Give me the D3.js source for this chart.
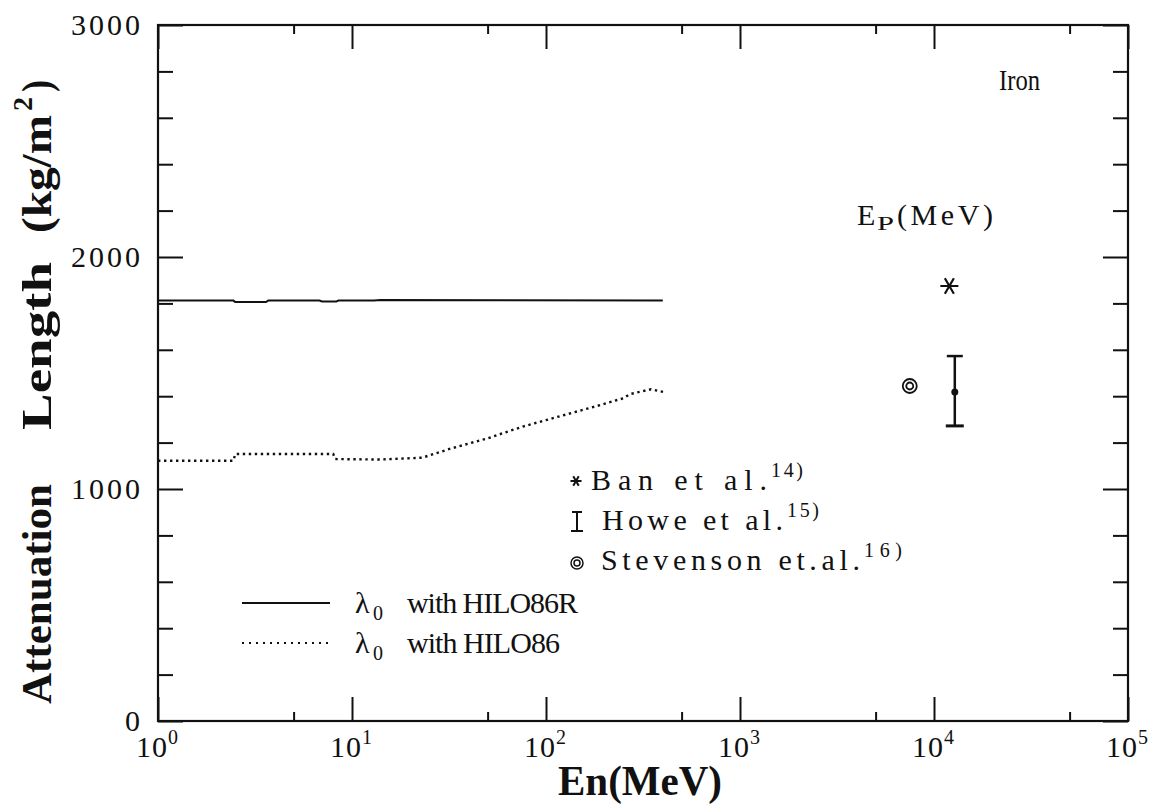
<!DOCTYPE html>
<html>
<head>
<meta charset="utf-8">
<script src="https://cdn.jsdelivr.net/npm/d3@7"></script>
<style>
  body { margin: 0; background: #fff; }
  text { font-family: "Liberation Serif", "DejaVu Serif", serif; fill: #111; }
</style>
</head>
<body>
<div id="chart"></div>
<script>
// curves (En in MeV, attenuation length in kg/m2)
const hilo86rE   = [1, 2.45, 2.5, 3.6, 3.7, 6.8, 7.0, 8.3, 8.5, 13, 14, 400];
const hilo86rVal = [1812, 1812, 1806, 1806, 1812, 1812, 1808, 1808, 1812, 1812, 1815, 1813];

const hilo86E   = [1, 2.45, 2.5, 8.0, 8.2, 14, 23, 32.5, 49.8, 75.9, 116, 178, 250, 271, 348, 405];
const hilo86Val = [1122, 1122, 1151, 1151, 1129, 1127, 1135, 1175, 1218, 1269, 1312, 1355, 1391, 1409, 1430, 1418];

// experimental points
const banE = [12000], banVal = [1875];
const howeE = [12800], howeVal = [1418], howeLo = [1272], howeHi = [1573];
const stevE = [7500], stevVal = [1444];

// axis ticks
const yMajor = [0, 1000, 2000, 3000];
const yMinor = [200, 400, 600, 800, 1200, 1400, 1600, 1800, 2200, 2400, 2600, 2800];
const xMajor = [1, 10, 100, 1000, 10000, 100000];
const xMinor = [5, 50, 500, 5000, 50000];
const xExp = ["0", "1", "2", "3", "4", "5"];

const W = 1158, H = 809;
const svg = d3.select("#chart").append("svg").attr("width", W).attr("height", H);

const x = d3.scaleLog().domain([1, 1e5]).range([158, 1128]);
const y = d3.scaleLinear().domain([0, 3000]).range([721, 25]);

// ticks, all pointing inward
svg.append("g").attr("transform", `translate(158,0)`)
    .call(d3.axisRight(y).tickValues(yMajor).tickSize(25).tickFormat(""));
svg.append("g").attr("transform", `translate(158,0)`)
    .call(d3.axisRight(y).tickValues(yMinor).tickSize(15).tickFormat(""));
svg.append("g").attr("transform", `translate(1128,0)`)
    .call(d3.axisLeft(y).tickValues(yMajor).tickSize(25).tickFormat(""));
svg.append("g").attr("transform", `translate(1128,0)`)
    .call(d3.axisLeft(y).tickValues(yMinor).tickSize(15).tickFormat(""));
svg.append("g").attr("transform", `translate(0,721)`)
    .call(d3.axisTop(x).tickValues(xMajor).tickSize(24).tickFormat(""));
svg.append("g").attr("transform", `translate(0,721)`)
    .call(d3.axisTop(x).tickValues(xMinor).tickSize(9).tickFormat(""));
svg.append("g").attr("transform", `translate(0,25)`)
    .call(d3.axisBottom(x).tickValues(xMajor).tickSize(24).tickFormat(""));
svg.append("g").attr("transform", `translate(0,25)`)
    .call(d3.axisBottom(x).tickValues(xMinor).tickSize(9).tickFormat(""));

svg.selectAll(".domain").remove();
svg.selectAll(".tick line").attr("stroke", "#111").attr("stroke-width", 2);

// frame
svg.append("rect")
    .attr("x", 158).attr("y", 25)
    .attr("width", 1128 - 158).attr("height", 721 - 25)
    .attr("fill", "none").attr("stroke", "#111").attr("stroke-width", 2.2);

// y tick labels
svg.selectAll("text.ylab")
    .data(yMajor)
    .join("text")
    .attr("class", "ylab")
    .attr("x", 143)
    .attr("y", d => y(d) + 10)
    .attr("text-anchor", "end")
    .style("font-size", "30px")
    .style("letter-spacing", "3px")
    .text(d => d);

// x tick labels 10^n
const xl = svg.selectAll("g.xlab")
    .data(xMajor)
    .join("g")
    .attr("class", "xlab")
    .attr("transform", d => `translate(${x(d)},757)`);
xl.append("text")
    .attr("x", -22)
    .style("font-size", "30px")
    .style("letter-spacing", "1px")
    .text("10");
xl.append("text")
    .attr("x", 10).attr("y", -13)
    .style("font-size", "20px")
    .text((d, i) => xExp[i]);

// axis titles
svg.append("text")
    .attr("x", 558).attr("y", 795)
    .attr("textLength", 164)
    .attr("lengthAdjust", "spacingAndGlyphs")
    .style("font-size", "42px").style("font-weight", "bold")
    .text("En(MeV)");

function vtext(str, cy, len, size, bx) {
    svg.append("text")
        .attr("transform", `translate(${bx},${cy}) rotate(-90)`)
        .attr("text-anchor", "middle")
        .attr("textLength", len)
        .attr("lengthAdjust", "spacingAndGlyphs")
        .style("font-size", size + "px").style("font-weight", "bold")
        .text(str);
}
vtext("Attenuation", 594, 220, 42, 51);
vtext("Length", 346, 168, 42, 51);
vtext("(kg/m", 174, 118, 42, 51);
vtext("2", 104, 14, 27, 32);
vtext(")", 86, 12, 42, 51);

// curves
const line = d3.line().x(d => x(d[0])).y(d => y(d[1]));

svg.append("path")
    .datum(hilo86rE.map((e, i) => [e, hilo86rVal[i]]))
    .attr("d", line)
    .attr("fill", "none").attr("stroke", "#111").attr("stroke-width", 2);

svg.append("path")
    .datum(hilo86E.map((e, i) => [e, hilo86Val[i]]))
    .attr("d", line)
    .attr("fill", "none").attr("stroke", "#111").attr("stroke-width", 2.4)
    .attr("stroke-dasharray", "2.4,3.6");

// markers
const asterisk = d3.symbol().type(d3.symbolAsterisk);

svg.selectAll("path.ban")
    .data(banE.map((e, i) => [e, banVal[i]]))
    .join("path")
    .attr("class", "ban")
    .attr("transform", d => `translate(${x(d[0])},${y(d[1])}) rotate(90)`)
    .attr("d", asterisk.size(230)())
    .attr("fill", "none").attr("stroke", "#111").attr("stroke-width", 2.2);

const howe = svg.selectAll("g.howe")
    .data(howeE.map((e, i) => ({ e, v: howeVal[i], lo: howeLo[i], hi: howeHi[i] })))
    .join("g").attr("class", "howe");
howe.append("line")
    .attr("x1", d => x(d.e)).attr("x2", d => x(d.e))
    .attr("y1", d => y(d.lo)).attr("y2", d => y(d.hi))
    .attr("stroke", "#111").attr("stroke-width", 2.5);
howe.append("line")
    .attr("x1", d => x(d.e) - 8).attr("x2", d => x(d.e) + 8)
    .attr("y1", d => y(d.hi)).attr("y2", d => y(d.hi))
    .attr("stroke", "#111").attr("stroke-width", 2.5);
howe.append("line")
    .attr("x1", d => x(d.e) - 9).attr("x2", d => x(d.e) + 9)
    .attr("y1", d => y(d.lo)).attr("y2", d => y(d.lo))
    .attr("stroke", "#111").attr("stroke-width", 3);
howe.append("circle")
    .attr("cx", d => x(d.e)).attr("cy", d => y(d.v))
    .attr("r", 3.5).attr("fill", "#111");

const stev = svg.selectAll("g.stev")
    .data(stevE.map((e, i) => [e, stevVal[i]]))
    .join("g").attr("class", "stev")
    .attr("transform", d => `translate(${x(d[0])},${y(d[1])})`);
stev.append("circle").attr("r", 7).attr("fill", "none").attr("stroke", "#111").attr("stroke-width", 1.8);
stev.append("circle").attr("r", 3.5).attr("fill", "none").attr("stroke", "#111").attr("stroke-width", 1.8);

// legend for points
svg.append("path")
    .attr("transform", "translate(576,481) rotate(90)")
    .attr("d", asterisk.size(85)())
    .attr("fill", "none").attr("stroke", "#111").attr("stroke-width", 2);
svg.append("line").attr("x1", 577).attr("x2", 577).attr("y1", 512).attr("y2", 531)
    .attr("stroke", "#111").attr("stroke-width", 2);
svg.append("line").attr("x1", 572).attr("x2", 582).attr("y1", 512).attr("y2", 512)
    .attr("stroke", "#111").attr("stroke-width", 2);
svg.append("line").attr("x1", 571).attr("x2", 583).attr("y1", 531).attr("y2", 531)
    .attr("stroke", "#111").attr("stroke-width", 2);
svg.append("circle").attr("cx", 577).attr("cy", 563).attr("r", 6)
    .attr("fill", "none").attr("stroke", "#111").attr("stroke-width", 1.5);
svg.append("circle").attr("cx", 577).attr("cy", 563).attr("r", 3)
    .attr("fill", "none").attr("stroke", "#111").attr("stroke-width", 1.5);

function label(str, x0, yb, len, size, extra) {
    const t = svg.append("text")
        .attr("x", x0).attr("y", yb)
        .style("font-size", size + "px")
        .text(str);
    if (len) t.attr("textLength", len).attr("lengthAdjust", extra || "spacing");
    return t;
}
label("Ban et al.", 591, 490, 176, 30);
label("14)", 771, 477, 32, 20);
label("Howe et al.", 602, 530, 181, 30);
label("15)", 787, 517, 32, 20);
label("Stevenson et.al.", 601, 570, 259, 30);
label("16)", 864, 557, 38, 20);

// line legend
svg.append("line").attr("x1", 242).attr("x2", 330).attr("y1", 603).attr("y2", 603)
    .attr("stroke", "#111").attr("stroke-width", 2);
svg.append("line").attr("x1", 242).attr("x2", 330).attr("y1", 643).attr("y2", 643)
    .attr("stroke", "#111").attr("stroke-width", 2).attr("stroke-dasharray", "2,5");
label("λ", 355, 613, null, 30);
label("0", 373, 620, null, 20);
label("with HILO86R", 407, 613, 171, 30);
label("λ", 355, 653, null, 30);
label("0", 373, 660, null, 20);
label("with HILO86", 407, 653, 153, 30);

// annotations
label("Iron", 999, 90, 41, 30, "spacingAndGlyphs");
label("E", 857, 225, null, 30);
label("P", 877, 230, 17, 18, "spacingAndGlyphs");
label("(MeV)", 897, 225, 96, 30);
</script>
</body>
</html>
